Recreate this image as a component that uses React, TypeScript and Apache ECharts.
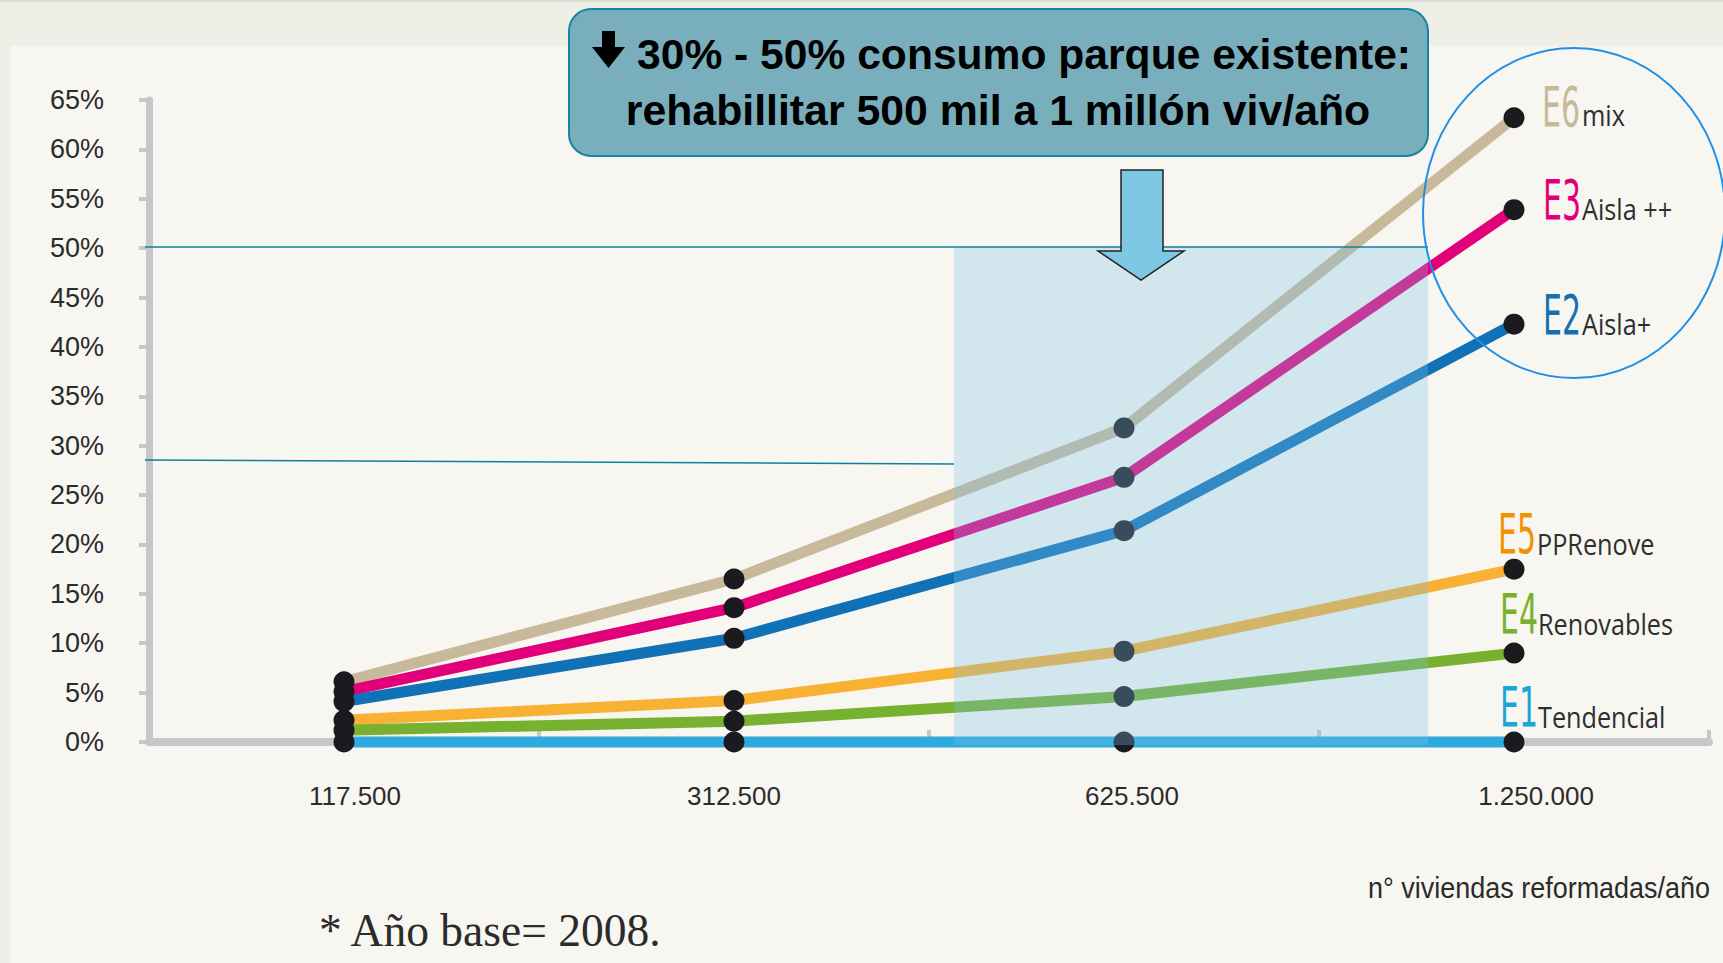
import { useEffect, useRef } from "react";
import * as echarts from "echarts";

// ---- data ----
const categories = ["117.500", "312.500", "625.500", "1.250.000"];
const e6Mix = [6.1, 16.5, 31.8, 63.2];
const e3AislaPlusPlus = [5.1, 13.6, 26.8, 53.9];
const e2AislaPlus = [4.1, 10.5, 21.4, 42.3];
const e5PPRenove = [2.2, 4.2, 9.2, 17.5];
const e4Renovables = [1.2, 2.1, 4.6, 9.0];
const e1Tendencial = [0, 0, 0, 0];
const yMin = 0;
const yMax = 65;
const yStep = 5;

const seriesDefs = [
  { code: "E6", sub: "mix", data: e6Mix, color: "#c9b99b", tagColor: "#c8b99b" },
  { code: "E3", sub: "Aisla ++", data: e3AislaPlusPlus, color: "#e2007a", tagColor: "#e2007a" },
  { code: "E2", sub: "Aisla+", data: e2AislaPlus, color: "#1171b6", tagColor: "#1670b0" },
  { code: "E5", sub: "PPRenove", data: e5PPRenove, color: "#f8b133", tagColor: "#f39200" },
  { code: "E4", sub: "Renovables", data: e4Renovables, color: "#78b030", tagColor: "#7ab02c" },
  { code: "E1", sub: "Tendencial", data: e1Tendencial, color: "#2eaade", tagColor: "#1aa7d8" },
];

// ---- layout (annotation positions, px) ----
const xLabelNudge = [11, 0, 8, 22];
const tagPos: Record<string, { x: number; y: number; sx: number; sy: number }> = {
  E6: { x: 1542, y: 107, sx: 1582, sy: 115 },
  E3: { x: 1543, y: 200, sx: 1582, sy: 209 },
  E2: { x: 1543, y: 315, sx: 1582, sy: 324 },
  E5: { x: 1498, y: 534, sx: 1537, sy: 544 },
  E4: { x: 1500, y: 614, sx: 1538, sy: 624 },
  E1: { x: 1500, y: 707, sx: 1538, sy: 717 },
};

const AXIS_GREY = "#c6c7c9";
const TEAL = "#0e7fa0";

export default function App() {
  const ref = useRef<HTMLDivElement>(null);

  useEffect(() => {
    const chart = echarts.init(ref.current!, null, { renderer: "svg" });

    const lineSeries = seriesDefs.map((s) => ({
      type: "line",
      name: s.code + " " + s.sub,
      data: s.data,
      showSymbol: false,
      clip: false,
      z: 2,
      lineStyle: { width: 11, color: s.color },
      itemStyle: { color: s.color },
    }));
    const dotSeries = seriesDefs.map((s) => ({
      type: "scatter",
      name: s.code + " dots",
      data: s.data,
      symbolSize: 21,
      clip: false,
      z: 3,
      itemStyle: { color: "#1b1a1f", opacity: 1 },
    }));

    const tags: any[] = [];
    seriesDefs.forEach((s) => {
      const p = tagPos[s.code];
      tags.push({
        type: "text",
        x: p.x,
        y: p.y,
        scaleX: 0.545,
        z: 70,
        style: {
          text: s.code,
          x: 0,
          y: 0,
          fill: s.tagColor,
          font: "55px 'DejaVu Sans'",
          align: "left",
          verticalAlign: "middle",
        },
      });
      tags.push({
        type: "text",
        x: p.sx,
        y: p.sy,
        scaleX: 0.87,
        z: 70,
        style: {
          text: s.sub,
          x: 0,
          y: 0,
          fill: "#2e2e2e",
          font: "29px 'Open Sans'",
          align: "left",
          verticalAlign: "middle",
        },
      });
    });

    const option: any = {
      animation: false,
      backgroundColor: "#f7f6f1",
      grid: { left: 149, right: 14, top: 100, bottom: 221, containLabel: false },
      xAxis: {
        type: "category",
        data: categories.map((c, i) => ({
          value: c,
          textStyle: { padding: [0, 0, 0, 2 * xLabelNudge[i]] },
        })),
        boundaryGap: true,
        axisLine: { show: true, lineStyle: { color: AXIS_GREY, width: 8 } },
        axisTick: { show: true, inside: true, length: 12, lineStyle: { color: AXIS_GREY, width: 4 } },
        axisLabel: {
          margin: 41,
          fontSize: 26,
          color: "#2b2b2b",
          fontFamily: "'Liberation Sans', Arial, sans-serif",
        },
        splitLine: { show: false },
      },
      yAxis: {
        type: "value",
        min: yMin,
        max: yMax,
        interval: yStep,
        axisLine: { show: true, lineStyle: { color: AXIS_GREY, width: 7 } },
        axisTick: { show: true, length: 10, lineStyle: { color: AXIS_GREY, width: 4 } },
        axisLabel: {
          formatter: "{value}%",
          margin: 45,
          fontSize: 27,
          color: "#2b2b2b",
          fontFamily: "'Liberation Sans', Arial, sans-serif",
        },
        splitLine: { show: false },
      },
      series: [...lineSeries, ...dotSeries],
      graphic: [
        // outer frame strips
        { type: "rect", z: 1, shape: { x: 0, y: 0, width: 1723, height: 46 }, style: { fill: "#efefe8" } },
        { type: "rect", z: 1, shape: { x: 0, y: 0, width: 11, height: 963 }, style: { fill: "#efefe8" } },
        { type: "rect", z: 1, shape: { x: 0, y: 0, width: 1723, height: 2 }, style: { fill: "#dcdcd5" } },
        // shaded zone
        {
          type: "rect",
          z: 50,
          shape: { x: 954, y: 247, width: 474, height: 498 },
          style: { fill: "rgba(127,193,233,0.3)" },
        },
        // 50% and ~30% reference lines
        {
          type: "line",
          z: 51,
          shape: { x1: 145, y1: 247, x2: 1428, y2: 247 },
          style: { stroke: TEAL, lineWidth: 1.6 },
        },
        {
          type: "line",
          z: 51,
          shape: { x1: 145, y1: 460, x2: 954, y2: 464 },
          style: { stroke: TEAL, lineWidth: 1.6 },
        },
        // callout box
        {
          type: "rect",
          z: 60,
          shape: { x: 569, y: 9, width: 859, height: 147, r: 22 },
          style: { fill: "#79afbc", stroke: "#1585a5", lineWidth: 2 },
        },
        {
          type: "polygon",
          z: 61,
          shape: {
            points: [
              [602, 31],
              [615, 31],
              [615, 47],
              [625, 47],
              [608.5, 68],
              [592, 47],
              [602, 47],
            ],
          },
          style: { fill: "#000" },
        },
        {
          type: "text",
          z: 61,
          x: 637,
          y: 54,
          style: {
            text: "30% - 50% consumo parque existente:",
            x: 0,
            y: 0,
            fill: "#000",
            font: "bold 42.6px 'Liberation Sans', Arial, sans-serif",
            align: "left",
            verticalAlign: "middle",
          },
        },
        {
          type: "text",
          z: 61,
          x: 998,
          y: 110,
          style: {
            text: "rehabillitar 500 mil a 1 millón viv/año",
            x: 0,
            y: 0,
            fill: "#000",
            font: "bold 42.8px 'Liberation Sans', Arial, sans-serif",
            align: "center",
            verticalAlign: "middle",
          },
        },
        // block arrow
        {
          type: "polygon",
          z: 62,
          shape: {
            points: [
              [1121, 170],
              [1163, 170],
              [1163, 251],
              [1184, 251],
              [1141, 280],
              [1098, 251],
              [1121, 251],
            ],
          },
          style: { fill: "#7ec8e6", stroke: "#222", lineWidth: 1.5 },
        },
        // highlight circle
        {
          type: "ellipse",
          z: 65,
          shape: { cx: 1574, cy: 213, rx: 151, ry: 165 },
          style: { fill: "none", stroke: "#1e90e8", lineWidth: 2 },
        },
        ...tags,
        // axis name & footnote
        {
          type: "text",
          z: 70,
          x: 1368,
          y: 888,
          scaleX: 0.93,
          style: {
            text: "n° viviendas reformadas/año",
            x: 0,
            y: 0,
            fill: "#2b2b2b",
            font: "29px 'Liberation Sans', Arial, sans-serif",
            align: "left",
            verticalAlign: "middle",
          },
        },
        {
          type: "text",
          z: 70,
          x: 319,
          y: 930,
          style: {
            text: "* Año base= 2008.",
            x: 0,
            y: 0,
            fill: "#2b2b2b",
            font: "45.5px 'Liberation Serif', 'DejaVu Serif', serif",
            align: "left",
            verticalAlign: "middle",
          },
        },
      ],
    };

    chart.setOption(option);
    return () => chart.dispose();
  }, []);

  return (
    <div
      ref={ref}
      style={{ position: "fixed", left: 0, top: 0, width: 1723, height: 963 }}
    />
  );
}
